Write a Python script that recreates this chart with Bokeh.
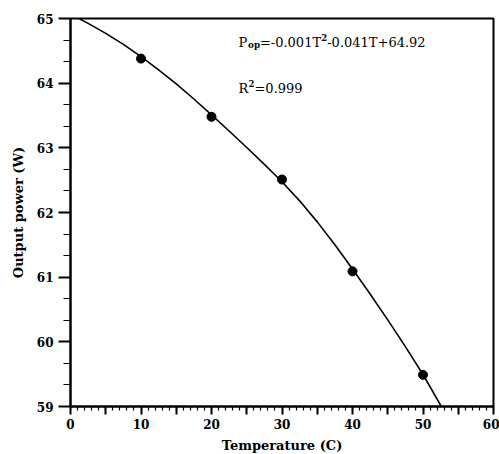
from bokeh.plotting import figure
from bokeh.models import FixedTicker, Label, Range1d
from bokeh.embed import file_html
from bokeh.resources import INLINE

# Measured data points
temp = [10, 20, 30, 40, 50]
power = [64.38, 63.48, 62.51, 61.09, 59.49]

# Fitted curve
curve_T = [1.2, 2.5, 5, 7.5, 10, 12.5, 15, 17.5, 20, 22.5, 25, 27.5, 30,
           32.5, 35, 37.5, 40, 42.5, 45, 47.5, 50, 52.6]
curve_P = [65.00, 64.925, 64.77, 64.60, 64.41, 64.205, 63.99, 63.755, 63.51,
           63.26, 63.005, 62.745, 62.475, 62.18, 61.855, 61.50, 61.125, 60.74,
           60.34, 59.925, 59.495, 59.00]

x_ticks = [0, 5, 10, 15, 20, 25, 30, 35, 40, 45, 50, 55, 60]
x_tick_labels = {0: "0", 10: "10", 20: "20", 30: "30", 40: "40", 50: "50", 60: "60"}
x_minor = list(range(0, 61))
y_ticks = [59, 60, 61, 62, 63, 64, 65]
y_minor = [59 + i / 3 for i in range(0, 19)]

FONT = "DejaVu Serif"

p = figure(frame_width=423, frame_height=388,
           min_border_left=70, min_border_top=18, min_border_right=6, min_border_bottom=48,
           x_range=Range1d(0, 60), y_range=Range1d(59, 65),
           output_backend="svg", toolbar_location=None)

p.xgrid.visible = False
p.ygrid.visible = False
p.outline_line_color = "black"
p.outline_line_width = 2
p.background_fill_color = "white"
p.border_fill_color = "white"

p.line(curve_T, curve_P, line_color="black", line_width=1.6, line_join="round")
p.scatter(temp, power, size=9, color="black")

# X axis
xa = p.xaxis[0]
xa.ticker = FixedTicker(ticks=x_ticks, minor_ticks=x_minor)
xa.major_label_overrides = {t: x_tick_labels.get(t, "") for t in x_ticks}
xa.axis_label = "Temperature (C)"
xa.axis_label_text_font = FONT
xa.axis_label_text_font_style = "bold"
xa.axis_label_text_font_size = "13px"
xa.axis_label_text_color = "black"
xa.axis_label_standoff = 6
xa.major_label_text_font = FONT
xa.major_label_text_font_style = "bold"
xa.major_label_text_font_size = "12px"
xa.major_label_text_color = "black"
xa.major_label_standoff = 4
xa.axis_line_width = 2
xa.axis_line_color = "black"
xa.major_tick_line_width = 2
xa.major_tick_line_color = "black"
xa.major_tick_out = 8
xa.major_tick_in = 0
xa.minor_tick_line_width = 1.2
xa.minor_tick_line_color = "black"
xa.minor_tick_out = 4
xa.minor_tick_in = 0

# Y axis
ya = p.yaxis[0]
ya.ticker = FixedTicker(ticks=y_ticks, minor_ticks=y_minor)
ya.axis_label = "Output power (W)"
ya.axis_label_text_font = FONT
ya.axis_label_text_font_style = "bold"
ya.axis_label_text_font_size = "13px"
ya.axis_label_text_color = "black"
ya.axis_label_standoff = 8
ya.major_label_text_font = FONT
ya.major_label_text_font_style = "bold"
ya.major_label_text_font_size = "12px"
ya.major_label_text_color = "black"
ya.major_label_standoff = 5
ya.axis_line_width = 2
ya.axis_line_color = "black"
ya.major_tick_line_width = 2
ya.major_tick_line_color = "black"
ya.major_tick_out = 12
ya.major_tick_in = 0
ya.minor_tick_line_width = 1.2
ya.minor_tick_line_color = "black"
ya.minor_tick_out = 7
ya.minor_tick_in = 0

# Annotations
eq_x = 23.83
eq_y = 64.629
r2_y = 63.918
FS = 13.0
SUB = 8.8
SUP = 8.5
common = dict(text_font=FONT, text_color="black", text_baseline="alphabetic", text_align="left")


def add(text, y, dx, dy=0, size=FS, style="normal"):
    p.add_layout(Label(x=eq_x, y=y, x_offset=dx, y_offset=dy, text=text,
                       text_font_size=f"{size}px", text_font_style=style, **common))


w_P = 0.733 * FS
w_op = 1.35 * SUB
w_part1 = 4.72 * FS
w_sup = 0.70 * SUP
add("P", eq_y, 0)
add("op", eq_y, w_P, dy=-3, size=SUB, style="bold")
add("=-0.001T", eq_y, w_P + w_op)
add("2", eq_y, w_P + w_op + w_part1, dy=4.5, size=SUP, style="bold")
add("-0.041T+64.92", eq_y, w_P + w_op + w_part1 + w_sup)

w_R = 0.77 * FS
add("R", r2_y, 0)
add("2", r2_y, w_R, dy=4.5, size=SUP, style="bold")
add("=0.999", r2_y, w_R + w_sup)

open("out.html", "w").write(file_html(p, INLINE))
